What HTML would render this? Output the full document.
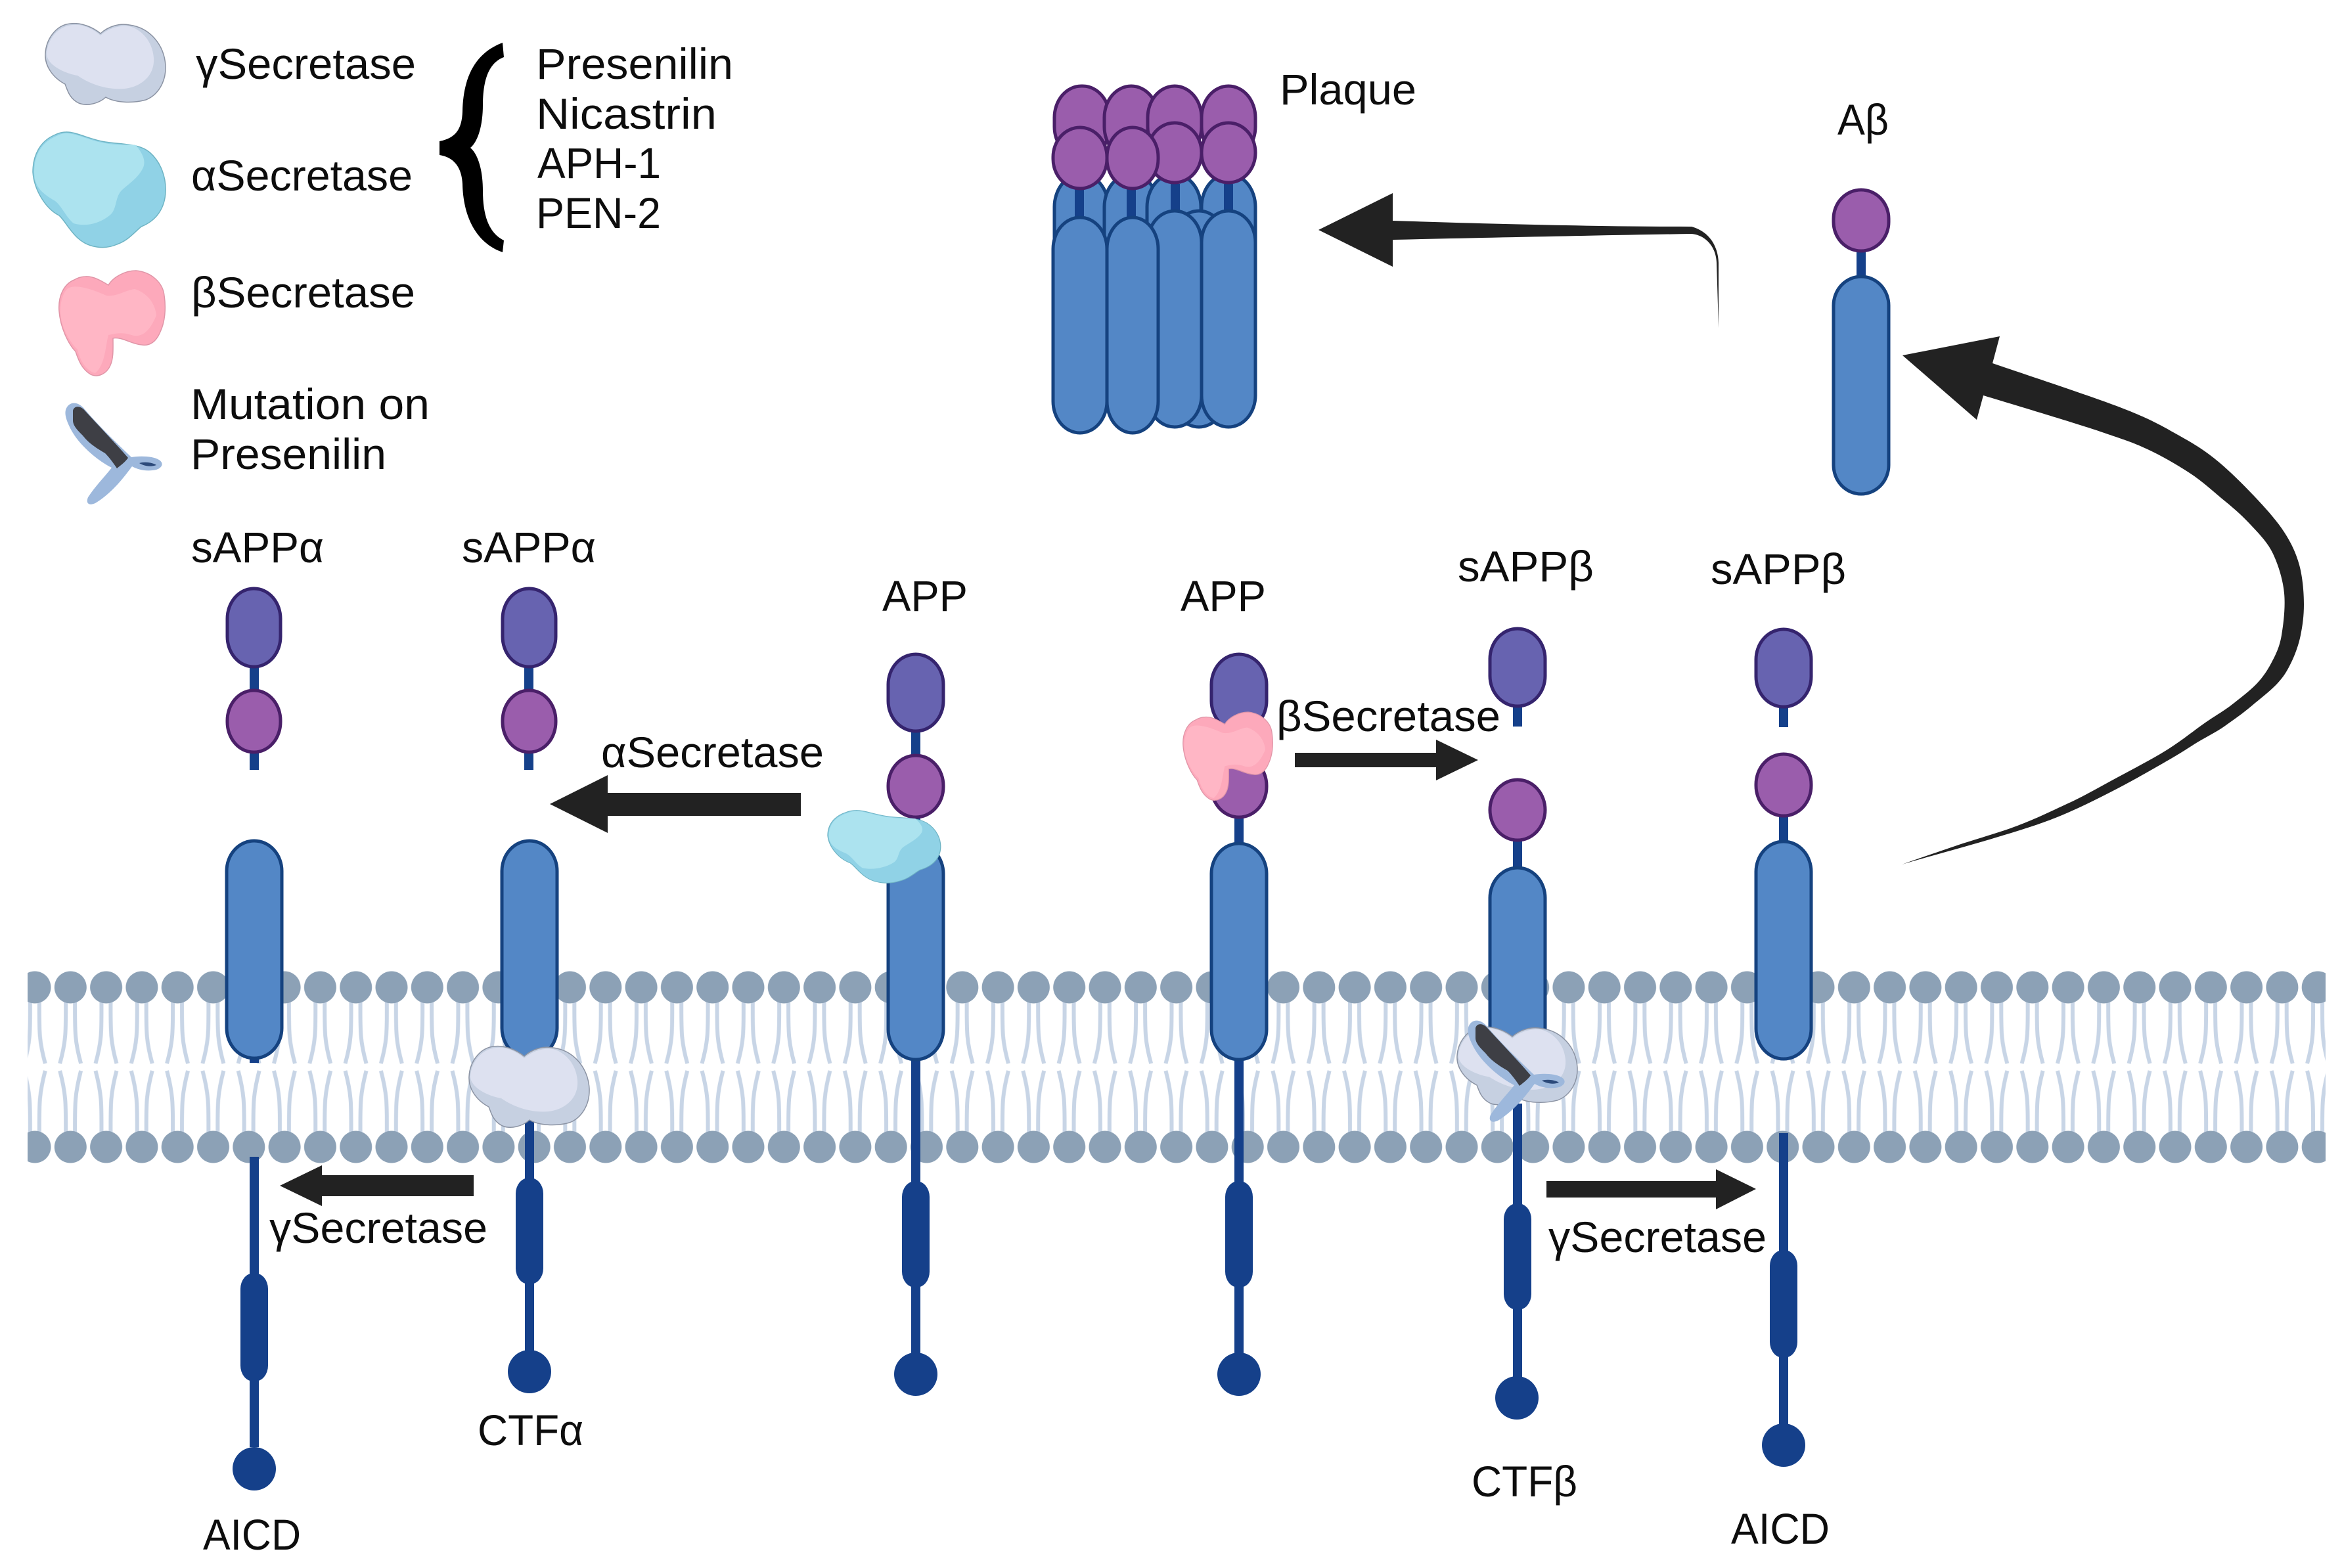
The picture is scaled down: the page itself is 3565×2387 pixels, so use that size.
<!DOCTYPE html>
<html lang="en">
<head>
<meta charset="utf-8">
<title>APP processing pathways</title>
<style>
html,body{margin:0;padding:0;background:#fff}
svg{display:block}
text{font-family:"Liberation Sans",sans-serif;font-size:66px;fill:#0d0d0d}
.d1{fill:#6763b0;stroke:#35246e;stroke-width:5}
.d2{fill:#9a5dac;stroke:#4a1f68;stroke-width:5}
.b{fill:#5387c6;stroke:#15427f;stroke-width:5}
.s{fill:#15408a}
.ar{fill:#222}
</style>
</head>
<body>
<svg xmlns="http://www.w3.org/2000/svg" width="3565" height="2387" viewBox="0 0 3565 2387">
<defs>
<pattern id="lip" patternUnits="userSpaceOnUse" x="25.85" y="1478" width="54.3" height="293">
  <g fill="none" stroke="#c8d5e6" stroke-width="6">
    <path d="M20,45 C20,90 21,105 11,141"/>
    <path d="M34,45 C34,90 33,105 43,141"/>
    <path d="M11,152 C21,190 20,205 20,250"/>
    <path d="M43,152 C33,190 34,205 34,250"/>
  </g>
  <circle cx="27.15" cy="25" r="24.5" fill="#8ca1b6"/>
  <circle cx="27.15" cy="268" r="24.5" fill="#8ca1b6"/>
</pattern>
<g id="gam">
  <path d="M107,36 C125,34 142,42 153,51 C165,40 182,35 197,38 C228,42 250,68 252,100 C253,125 240,145 222,152 C200,158 175,156 161,148 C150,158 132,162 120,157 C105,150 102,135 99,128 C80,118 68,100 69,82 C70,60 85,38 107,36 Z" fill="#c6d0e1" stroke="#8b93a3" stroke-width="1.5"/>
  <path d="M110,38 C125,36 142,44 153,54 C165,43 182,38 197,40 C215,45 232,62 234,88 C236,115 215,132 190,135 C165,137 140,130 118,115 C100,112 72,100 71,82 C72,60 88,40 110,38 Z" fill="#dde1f0"/>
</g>
<g id="alp">
  <path d="M100,201 C115,200 135,212 160,216 C185,220 212,218 228,232 C245,247 253,270 252,292 C251,315 240,335 215,345 C203,355 195,366 178,372 C160,380 135,378 118,362 C105,350 98,335 90,328 C70,318 52,290 50,262 C50,235 62,215 82,206 C88,203 94,201 100,201 Z" fill="#90d2e6" stroke="#6fb4c4" stroke-width="1.5"/>
  <path d="M100,203 C115,202 135,214 160,218 C180,222 195,219 207,221 C218,235 222,245 218,255 C210,272 195,280 184,291 C175,302 178,318 168,327 C150,342 128,345 112,340 C100,330 95,315 84,306 C65,295 52,285 52,262 C52,235 64,217 84,208 C90,205 95,203 100,203 Z" fill="#ace3ef"/>
</g>
<g id="bet">
  <path d="M130,421 C142,420 155,428 165,434 C172,422 190,412 207,412 C230,414 248,430 250,450 C253,470 251,490 244,505 C238,520 228,527 216,525 C200,524 185,512 172,515 C172,530 173,545 168,556 C162,570 148,575 138,570 C125,562 120,550 115,535 C105,525 92,500 90,474 C88,450 98,432 113,426 C118,423 124,421 130,421 Z" fill="#fda9bb" stroke="#e096a8" stroke-width="1.5"/>
  <path d="M102,440 C112,432 135,438 162,450 C178,452 190,442 205,440 C222,445 236,460 238,480 C228,505 215,515 200,510 C185,505 175,508 165,510 C160,530 160,555 145,568 C132,565 122,550 118,532 C105,520 92,495 92,474 C92,460 95,448 102,440 Z" fill="#ffb6c5"/>
</g>
<g id="mut">
  <path d="M100,624 C104,611 118,610 128,622 C150,648 178,675 200,696 C212,694 232,694 242,700 C250,705 247,712 238,715 C225,718 212,716 201,710 C192,722 172,750 145,766 C136,770 130,767 134,757 C145,740 160,725 170,712 C150,702 120,678 107,652 C102,642 98,632 100,624 Z" fill="#9db8dc"/>
  <path d="M111,625 C113,617 123,617 130,626 C152,650 176,675 195,697 C190,704 184,708 178,713 C172,704 166,696 160,690 C148,683 135,675 126,663 C118,655 111,648 111,640 Z" fill="#3e3f45"/>
  <path d="M212,705 C222,702 234,705 238,708 C230,711 220,710 212,705 Z" fill="#2c4a7a"/>
</g>
</defs>

<rect width="3565" height="2387" fill="#fff"/>

<!-- membrane -->
<rect x="42" y="1478" width="3498" height="293" fill="url(#lip)"/>

<!-- legend -->
<use href="#gam"/>
<use href="#alp"/>
<use href="#bet"/>
<use href="#mut"/>
<path d="M765,65 C725,80 705,115 704,170 C703,195 695,210 669,215 L669,236 C695,240 703,260 704,280 C705,330 725,370 765,384 L767,366 C745,355 735,330 735,290 C735,260 728,235 716,225 C728,215 735,190 735,160 C735,120 745,95 767,87 Z" fill="#000"/>
<text x="298" y="120" textLength="335" lengthAdjust="spacingAndGlyphs">γSecretase</text>
<text x="291" y="290" textLength="337" lengthAdjust="spacingAndGlyphs">αSecretase</text>
<text x="291" y="468" textLength="341" lengthAdjust="spacingAndGlyphs">βSecretase</text>
<text x="290" y="638" textLength="364" lengthAdjust="spacingAndGlyphs">Mutation on</text>
<text x="290" y="714" textLength="298" lengthAdjust="spacingAndGlyphs">Presenilin</text>
<text x="816" y="120" textLength="300" lengthAdjust="spacingAndGlyphs">Presenilin</text>
<text x="816" y="196" textLength="275" lengthAdjust="spacingAndGlyphs">Nicastrin</text>
<text x="818" y="271" textLength="188" lengthAdjust="spacingAndGlyphs">APH-1</text>
<text x="816" y="347" textLength="190" lengthAdjust="spacingAndGlyphs">PEN-2</text>

<!-- plaque -->
<rect class="b" x="1605" y="265" width="82" height="370" rx="41" ry="50"/>
<rect class="b" x="1681" y="265" width="82" height="370" rx="41" ry="50"/>
<rect class="b" x="1746" y="265" width="82" height="370" rx="41" ry="50"/>
<rect class="b" x="1829" y="265" width="82" height="370" rx="41" ry="50"/>
<rect class="d2" x="1605" y="131" width="84" height="110" rx="41" ry="48"/>
<rect class="d2" x="1681" y="131" width="82" height="110" rx="41" ry="48"/>
<rect class="d2" x="1747" y="131" width="82" height="110" rx="41" ry="48"/>
<rect class="d2" x="1829" y="131" width="82" height="110" rx="41" ry="48"/>
<rect class="s" x="1636" y="280" width="14" height="60"/>
<rect class="s" x="1715" y="280" width="14" height="60"/>
<rect class="s" x="1782" y="280" width="14" height="50"/>
<rect class="s" x="1863" y="280" width="14" height="50"/>
<rect class="b" x="1784" y="321" width="82" height="329" rx="41" ry="48"/>
<rect class="b" x="1747" y="321" width="82" height="329" rx="41" ry="48"/>
<rect class="b" x="1829" y="321" width="82" height="329" rx="41" ry="48"/>
<rect class="b" x="1603" y="331" width="82" height="328" rx="41" ry="48"/>
<rect class="b" x="1685" y="331" width="78" height="328" rx="39" ry="48"/>
<rect class="d2" x="1747" y="187" width="82" height="91" rx="41" ry="45"/>
<rect class="d2" x="1829" y="187" width="82" height="91" rx="41" ry="45"/>
<rect class="d2" x="1603" y="194" width="82" height="93" rx="41" ry="45"/>
<rect class="d2" x="1685" y="194" width="78" height="93" rx="39" ry="45"/>
<text x="1948" y="159" textLength="208" lengthAdjust="spacingAndGlyphs">Plaque</text>

<!-- plaque arrow -->
<path class="ar" d="M2007,350 L2120,294 L2120,336 C2300,342 2450,345 2575,345 C2600,352 2615,372 2616,400 L2616,499 L2613,400 C2612,375 2596,358 2575,356 C2450,358 2300,361 2120,365 L2120,406 Z"/>

<!-- Abeta -->
<rect class="s" x="2826" y="378" width="14" height="50"/>
<rect class="d2" x="2791" y="289" width="84" height="93" rx="42" ry="44"/>
<rect class="b" x="2791" y="421" width="84" height="331" rx="42" ry="44"/>
<text x="2797" y="205" textLength="78" lengthAdjust="spacingAndGlyphs">Aβ</text>

<!-- big curved arrow -->
<path class="ar" d="M2896,541 L3044,512 L3033,553 C3065,564 3180,602 3227,620 C3274,638 3292,649 3317,663 C3342,677 3358,687 3377,703 C3396,719 3416,739 3433,757 C3450,775 3466,793 3477,810 C3488,827 3495,842 3500,860 C3505,878 3507,902 3507,920 C3507,938 3505,952 3502,967 C3499,982 3493,998 3487,1010 C3481,1022 3477,1029 3467,1040 C3457,1051 3440,1064 3427,1075 C3414,1086 3401,1095 3387,1105 C3373,1115 3354,1124 3340,1133 C3326,1142 3320,1146 3301,1157 C3282,1168 3249,1187 3224,1200 C3199,1213 3173,1226 3148,1237 C3123,1248 3100,1256 3071,1265 C3042,1274 3005,1285 2976,1293 C2947,1301 2908,1312 2895,1316 C2908,1311 2947,1298 2976,1288 C3005,1278 3042,1268 3071,1257 C3100,1246 3122,1235 3148,1223 C3174,1211 3198,1197 3224,1183 C3250,1169 3279,1154 3301,1140 C3323,1126 3341,1111 3357,1100 C3373,1089 3384,1083 3397,1073 C3410,1063 3423,1053 3433,1043 C3443,1033 3450,1023 3457,1010 C3464,997 3470,985 3473,967 C3476,949 3479,924 3477,903 C3475,882 3468,860 3460,843 C3452,826 3439,813 3427,800 C3415,787 3403,776 3387,763 C3371,750 3353,733 3333,720 C3313,707 3289,693 3267,683 C3245,673 3241,672 3200,658 C3159,644 3049,611 3019,602 L3009,639 Z"/>

<!-- sAPPa 1 -->
<rect class="s" x="380" y="1000" width="14" height="172"/>
<rect class="d1" x="346" y="896" width="81" height="119" rx="40" ry="46"/>
<rect class="d2" x="346" y="1051" width="81" height="94" rx="40" ry="46"/>
<rect class="s" x="380" y="1600" width="14" height="18"/>
<rect class="b" x="345" y="1280" width="84" height="331" rx="42" ry="46"/>
<rect class="s" x="380" y="1761" width="14" height="442"/>
<rect class="s" x="366" y="1938" width="42" height="165" rx="20" ry="24"/>
<ellipse class="s" cx="387" cy="2236" rx="33" ry="33"/>

<!-- sAPPa 2 -->
<rect class="s" x="798" y="1000" width="14" height="172"/>
<rect class="d1" x="765" y="896" width="81" height="119" rx="40" ry="46"/>
<rect class="d2" x="765" y="1051" width="81" height="94" rx="40" ry="46"/>
<rect class="b" x="764" y="1280" width="84" height="331" rx="42" ry="46"/>
<rect class="s" x="799" y="1700" width="14" height="360"/>
<rect class="s" x="785" y="1793" width="42" height="162" rx="20" ry="24"/>
<ellipse class="s" cx="806" cy="2088" rx="33" ry="33"/>
<use href="#gam" transform="translate(645,1557)"/>

<!-- APP 1 -->
<rect class="s" x="1387" y="1100" width="14" height="960"/>
<rect class="d1" x="1352" y="996" width="84" height="117" rx="42" ry="46"/>
<rect class="d2" x="1352" y="1150" width="84" height="94" rx="42" ry="46"/>
<rect class="b" x="1352" y="1284" width="84" height="329" rx="42" ry="46"/>
<rect class="s" x="1373" y="1798" width="42" height="162" rx="20" ry="24"/>
<ellipse class="s" cx="1394" cy="2092" rx="33" ry="33"/>
<use href="#alp" transform="translate(1260,1233) scale(.85,.63) translate(-50,-200)"/>

<!-- APP 2 -->
<rect class="s" x="1879" y="1100" width="14" height="960"/>
<rect class="d1" x="1844" y="996" width="84" height="117" rx="42" ry="46"/>
<rect class="d2" x="1844" y="1150" width="84" height="94" rx="42" ry="46"/>
<rect class="b" x="1844" y="1284" width="84" height="329" rx="42" ry="46"/>
<rect class="s" x="1865" y="1798" width="42" height="162" rx="20" ry="24"/>
<ellipse class="s" cx="1886" cy="2092" rx="33" ry="33"/>
<use href="#bet" transform="translate(1801,1084) scale(.845,.84) translate(-90,-412)"/>

<!-- sAPPb 1 -->
<rect class="s" x="2303" y="1060" width="14" height="46"/>
<rect class="d1" x="2268" y="957" width="84" height="118" rx="42" ry="46"/>
<rect class="s" x="2303" y="1270" width="14" height="60"/>
<rect class="d2" x="2268" y="1187" width="84" height="92" rx="42" ry="46"/>
<rect class="b" x="2268" y="1321" width="84" height="330" rx="42" ry="46"/>
<use href="#gam" transform="translate(2149,1529) scale(1,.96)"/>
<rect class="s" x="2303" y="1680" width="14" height="420"/>
<rect class="s" x="2289" y="1832" width="42" height="162" rx="20" ry="24"/>
<ellipse class="s" cx="2309" cy="2128" rx="33" ry="33"/>
<use href="#mut" transform="translate(2135,940)"/>

<!-- sAPPb 2 -->
<rect class="s" x="2708" y="1060" width="14" height="47"/>
<rect class="d1" x="2673" y="958" width="84" height="118" rx="42" ry="46"/>
<rect class="s" x="2708" y="1235" width="14" height="50"/>
<rect class="d2" x="2673" y="1148" width="84" height="94" rx="42" ry="46"/>
<rect class="b" x="2673" y="1281" width="84" height="331" rx="42" ry="46"/>
<rect class="s" x="2708" y="1725" width="14" height="445"/>
<rect class="s" x="2694" y="1903" width="42" height="164" rx="20" ry="24"/>
<ellipse class="s" cx="2715" cy="2200" rx="33" ry="33"/>

<!-- straight arrows -->
<path class="ar" d="M837,1224 L925,1180 L925,1207 L1219,1207 L1219,1242 L925,1242 L925,1268 Z"/>
<path class="ar" d="M426,1805 L490,1774 L490,1789 L721,1789 L721,1821 L490,1821 L490,1836 Z"/>
<path class="ar" d="M2250,1157 L2186,1126 L2186,1146 L1971,1146 L1971,1168 L2186,1168 L2186,1188 Z"/>
<path class="ar" d="M2673,1810 L2612,1780 L2612,1798 L2354,1798 L2354,1823 L2612,1823 L2612,1841 Z"/>

<!-- labels -->
<text x="291" y="856" textLength="202" lengthAdjust="spacingAndGlyphs">sAPPα</text>
<text x="703" y="856" textLength="204" lengthAdjust="spacingAndGlyphs">sAPPα</text>
<text x="1343" y="930" textLength="130" lengthAdjust="spacingAndGlyphs">APP</text>
<text x="1797" y="930" textLength="130" lengthAdjust="spacingAndGlyphs">APP</text>
<text x="2219" y="885" textLength="207" lengthAdjust="spacingAndGlyphs">sAPPβ</text>
<text x="2604" y="889" textLength="206" lengthAdjust="spacingAndGlyphs">sAPPβ</text>
<text x="915" y="1168" textLength="339" lengthAdjust="spacingAndGlyphs">αSecretase</text>
<text x="1943" y="1113" textLength="341" lengthAdjust="spacingAndGlyphs">βSecretase</text>
<text x="410" y="1892" textLength="332" lengthAdjust="spacingAndGlyphs">γSecretase</text>
<text x="2357" y="1906" textLength="332" lengthAdjust="spacingAndGlyphs">γSecretase</text>
<text x="727" y="2200" textLength="161" lengthAdjust="spacingAndGlyphs">CTFα</text>
<text x="309" y="2359" textLength="149" lengthAdjust="spacingAndGlyphs">AICD</text>
<text x="2240" y="2278" textLength="161" lengthAdjust="spacingAndGlyphs">CTFβ</text>
<text x="2635" y="2350" textLength="150" lengthAdjust="spacingAndGlyphs">AICD</text>
</svg>
</body>
</html>
